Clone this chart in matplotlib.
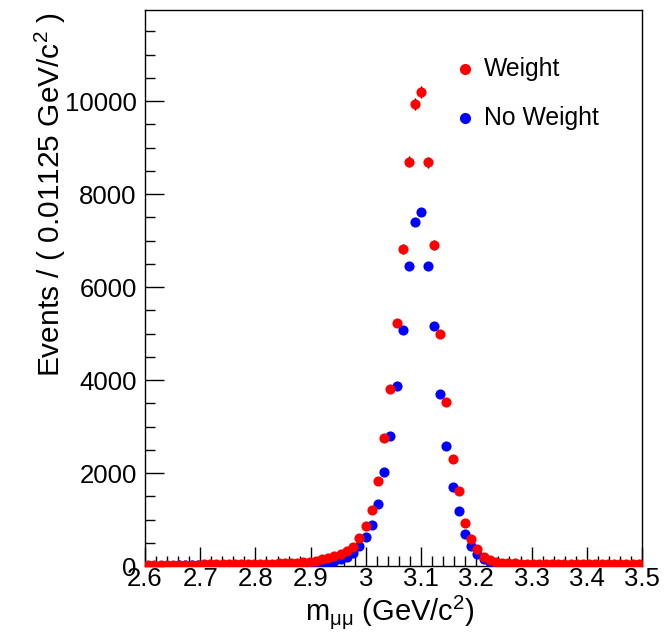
import numpy as np
import matplotlib
matplotlib.use("Agg")
import matplotlib.pyplot as plt
from matplotlib.ticker import MultipleLocator

plt.rcParams['font.family'] = ['Liberation Sans', 'DejaVu Sans']
plt.rcParams['mathtext.fontset'] = 'custom'
plt.rcParams['mathtext.rm'] = 'Liberation Sans'
plt.rcParams['mathtext.it'] = 'Liberation Sans'

# Binning: 80 bins of 0.01125 GeV/c^2 from 2.6 to 3.5
x_lo, x_hi, n_bins = 2.6, 3.5, 80

weight_counts = [
    30, 28, 30, 29, 31, 30, 32, 31, 30, 33,
    34, 33, 35, 36, 36, 38, 40, 42, 44, 46,
    50, 54, 58, 64, 72, 80, 92, 110,
    140, 165, 205, 255, 315, 410,
    600, 860, 1210, 1820, 2750, 3800, 5230, 6820, 8690, 9930,
    10200, 8680, 6900, 4990, 3520, 2310, 1620, 925, 580, 370,
    200, 130, 95, 75, 62, 55,
    50, 48, 46, 45, 45, 44, 43, 43, 42, 42,
    41, 41, 40, 40, 40, 39, 39, 38, 38, 38,
]

noweight_counts = [
    8, 9, 9, 10, 10, 11, 11, 12, 12, 13,
    13, 14, 15, 15, 16, 17, 18, 19, 20, 22,
    24, 26, 28, 31, 35, 40, 45, 50,
    60, 75, 100, 140, 195, 280,
    430, 615, 880, 1330, 2030, 2800, 3870, 5075, 6450, 7400,
    7610, 6450, 5160, 3700, 2580, 1700, 1180, 680, 430, 260,
    140, 80, 50, 35, 28, 25,
    22, 20, 20, 18, 19, 18, 17, 18, 16, 17,
    16, 15, 16, 15, 14, 15, 14, 13, 14, 13,
]

legend_labels = ["Weight", "No Weight"]

edges = np.linspace(x_lo, x_hi, n_bins + 1)
centers = 0.5 * (edges[:-1] + edges[1:])
w = np.array(weight_counts, dtype=float)
nw = np.array(noweight_counts, dtype=float)
w_err = 1.25 * np.sqrt(w)
nw_err = np.sqrt(nw)

fig = plt.figure(figsize=(6.64, 6.38), dpi=100)
ax = fig.add_axes([145/664, 1 - 566/638, (642-145)/664, (566-10)/638])

ax.errorbar(centers, nw, yerr=nw_err, fmt='o', color='blue', ms=7.3,
            ecolor='black', elinewidth=1, capsize=2.5, mew=0, zorder=3)
ax.errorbar(centers, w, yerr=w_err, fmt='o', color='red', ms=7.3,
            ecolor='black', elinewidth=1, capsize=2.5, mew=0, zorder=4)

ax.set_xlim(x_lo, x_hi)
ax.set_ylim(0, 11957)

ax.xaxis.set_major_locator(MultipleLocator(0.1))
ax.xaxis.set_minor_locator(MultipleLocator(0.02))
ax.yaxis.set_major_locator(MultipleLocator(2000))
ax.yaxis.set_minor_locator(MultipleLocator(500))
ax.xaxis.set_major_formatter(matplotlib.ticker.FuncFormatter(lambda v, p: f"{v:g}"))

ax.tick_params(which='both', direction='in', top=False, right=False,
               labelsize=18.5, width=1, colors='black')
ax.tick_params(which='major', length=14)
ax.tick_params(which='minor', length=7)
ax.tick_params(axis='x', which='major', pad=1)
ax.tick_params(axis='y', which='major', pad=6)
for s in ax.spines.values():
    s.set_linewidth(1)
    s.set_color('black')

fig.text(420/664 - 0.045, 1 - 612/638, r'm$_{\mathrm{\mu\mu}}$ (GeV/c$^{2}$)',
         ha='center', va='center', fontsize=21)
fig.text(50/664, 1 - 12/638, r'Events / ( 0.01125 GeV/c$^{2}$ )',
         rotation=90, ha='center', va='top', fontsize=21.5)

# Legend
leg_x = 465
for lbl, col, ly in zip(legend_labels, ['red', 'blue'], [69, 118]):
    fig.lines.append(matplotlib.lines.Line2D([leg_x/664], [1 - ly/638], marker='o',
                     color=col, ms=8, mew=0, transform=fig.transFigure))
    fig.text(484/664, 1 - ly/638, lbl, ha='left', va='center', fontsize=17.8)

fig.savefig("out.png", dpi=100)
